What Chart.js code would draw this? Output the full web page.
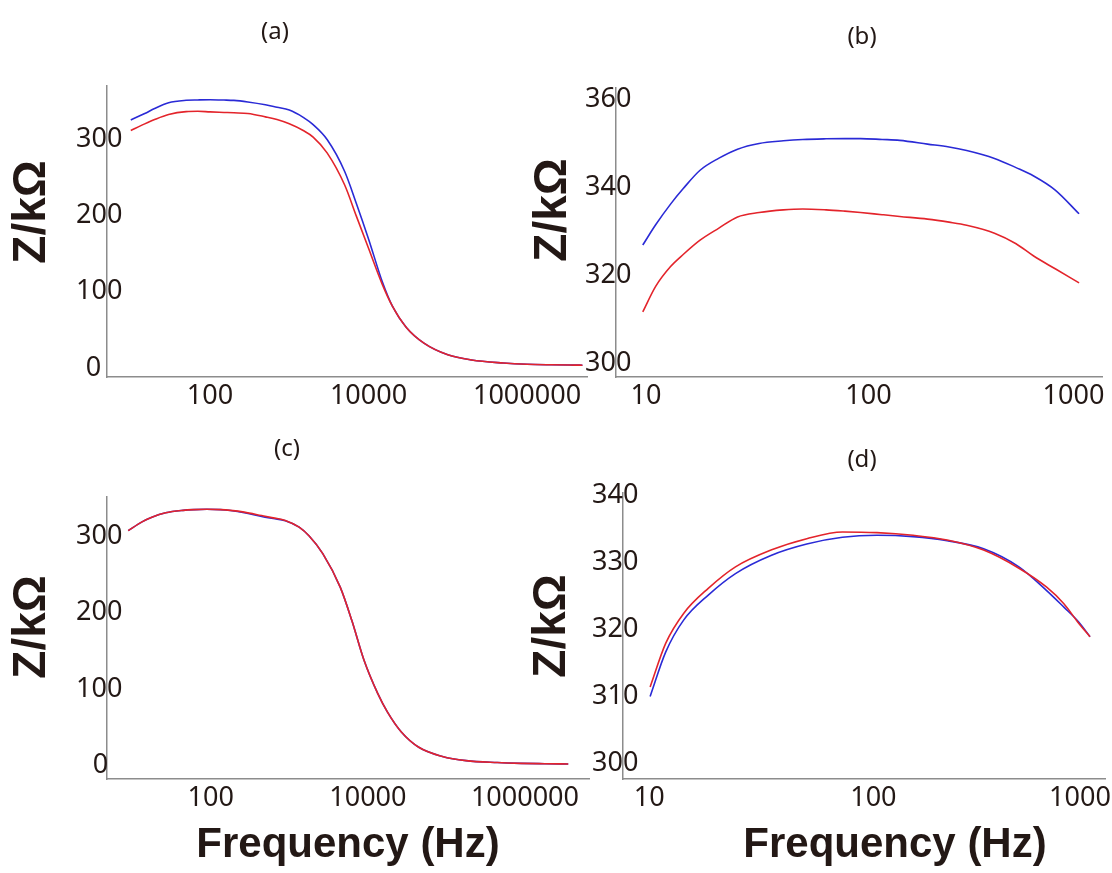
<!DOCTYPE html>
<html>
<head>
<meta charset="utf-8">
<title>Impedance spectra</title>
<script src="https://cdn.jsdelivr.net/npm/chart.js@4.4.1/dist/chart.umd.min.js"></script>
<style>
  html, body { margin: 0; padding: 0; background: #fff; }
  #page { position: relative; width: 1112px; height: 873px; }
  #page canvas { position: absolute; left: 0; top: 0; }
</style>
</head>
<body>
<div id="page">
  <canvas id="chartA" width="1112" height="873"></canvas>
  <canvas id="chartB" width="1112" height="873"></canvas>
  <canvas id="chartC" width="1112" height="873"></canvas>
  <canvas id="chartD" width="1112" height="873"></canvas>
</div>
<script>
// full sweep, panels (a) and (c)
const freqWide = [10, 15, 20, 30, 50, 70, 100, 150, 200, 300, 500, 700, 1000, 1500, 2000, 3000,
  5000, 7000, 10000, 15000, 20000, 30000, 50000, 100000, 200000, 500000, 1000000, 2000000, 4000000, 5000000];
const zRedA = [311.5, 320.3, 326, 332.6, 336.4, 336.8, 336, 335.3, 334.8, 333.9, 329.5, 326, 320.4, 311.6, 303, 282.2,
  240, 199.5, 157, 109, 81, 53, 32.4, 17.1, 10.3, 6.4, 4.7, 4, 3.6, 3.5];
const zBlueA = [325.5, 333.8, 340.5, 348, 351.2, 351.7, 352, 351.6, 351.1, 349, 345.3, 342, 338.4, 328.8, 319.2, 299.7,
  257.8, 216.2, 169.3, 112.3, 81, 53, 32.4, 17.1, 10.3, 6.4, 4.7, 4, 3.6, 3.5];
const zRedC = [307, 318.5, 324.5, 330.3, 333.5, 334.5, 335, 334.5, 333.5, 331.2, 326.7, 323.7, 320.4, 311.5, 300.2, 276.9,
  233, 190, 138, 94, 69.5, 43.5, 23.5, 11.5, 6, 3.5, 2.5, 2, 1.6];
const zBlueC = [307, 318.5, 324.5, 330.3, 333.5, 334.5, 335, 334.5, 333.3, 330.5, 325.5, 322.8, 320, 311.5, 300.2, 276.9,
  233, 190, 138, 94, 69.5, 43.5, 23.5, 11.5, 6, 3.5, 2.5, 2, 1.6];

// low-frequency detail, panels (b) and (d)
const freqB = [10.5, 12, 14, 16, 19, 23, 28, 35, 45, 55, 70, 85, 100, 125, 150, 200, 250, 300, 400, 500, 600, 750, 960];
const zRedB = [311.7, 317.5, 322, 324.8, 328, 330.7, 333.3, 334.3, 334.9, 335.1, 334.9, 334.6, 334.3, 333.8, 333.4,
  332.8, 332.1, 331.4, 329.6, 327.2, 324.4, 321.5, 318.3];
const zBlueB = [326.9, 331.5, 336.2, 339.8, 343.9, 346.6, 348.7, 350, 350.6, 350.9, 351.05, 351.1, 351.1, 350.9, 350.7,
  349.85, 349.2, 348.4, 346.6, 344.5, 342.6, 339.4, 334];

const freqD = [10.4, 12.2, 14.7, 18.9, 25, 36, 52, 75, 107, 155, 220, 320, 460, 610, 730, 850, 955];
const zRedD = [311.4, 317.9, 322.4, 326.1, 329.3, 331.8, 333.5, 334.5, 334.4, 334, 333.3, 331.8, 329.1, 326.3, 323.8, 320.9, 318.9];
const zBlueD = [310, 316.6, 321.4, 325.1, 328.3, 331, 332.7, 333.7, 334, 333.8, 333.2, 332, 329.3, 325.8, 323.3, 321.1, 318.9];

// tick labels
const wideTicks = [100, 10000, 1000000];
const narrowTicks = [10, 100, 1000];
const zTicksFull = [0, 100, 200, 300];
const zTicksB = [300, 320, 340, 360];
const zTicksD = [300, 310, 320, 330, 340];

const INK = '#231815';
const AXIS = '#8c8c8c';
const RED = '#e3242b';
const BLUE = '#2a2ad6';
const tickFont = { family: '"Noto Sans", "Open Sans", sans-serif', size: 27 };
const yTitleFont = 'bold 46px "Liberation Sans", Arial, sans-serif';
const xTitleFont = 'bold 42px "Liberation Sans", Arial, sans-serif';
const panelFont = '24px "Noto Sans", "Open Sans", sans-serif';
// y labels hang past the axis line: right edge sits this far right of it
const Y_LABEL_OVERHANG = 15;
const Y_LABEL_WIDEST = 46;

const pairs = (xs, ys) => ys.map((y, i) => ({ x: xs[i], y }));

// draws panel letters and axis titles at fixed spots
function captions(items) {
  return {
    id: 'captions',
    afterDraw(chart) {
      const ctx = chart.ctx;
      items.forEach((t) => {
        ctx.save();
        ctx.translate(t.x, t.y);
        if (t.rotate) ctx.rotate(t.rotate);
        ctx.font = t.font;
        ctx.fillStyle = INK;
        ctx.textAlign = 'center';
        ctx.textBaseline = t.baseline || 'middle';
        ctx.fillText(t.text, 0, 0);
        ctx.restore();
      });
    },
  };
}

function makePanel(id, cfg) {
  const lastPad = ' '.repeat(cfg.lastPad || 0);
  const zeroPad = ' '.repeat(cfg.zeroPad || 0);
  return new Chart(document.getElementById(id), {
    type: 'line',
    data: {
      datasets: [
        { data: pairs(cfg.freq, cfg.red), borderColor: RED },
        { data: pairs(cfg.freq, cfg.blue), borderColor: BLUE },
      ],
    },
    options: {
      responsive: false,
      animation: false,
      events: [],
      layout: { autoPadding: false, padding: cfg.padding },
      elements: {
        point: { radius: 0 },
        line: { borderWidth: 1.6, cubicInterpolationMode: 'monotone', fill: false },
      },
      plugins: { legend: { display: false }, tooltip: { enabled: false } },
      scales: {
        x: {
          type: 'logarithmic',
          min: cfg.xMin,
          max: cfg.xMax,
          afterBuildTicks: (s) => { s.ticks = cfg.xTicks.map((v) => ({ value: v })); },
          afterFit: (s) => {
            s.height = 40;
            s.paddingLeft = 0;
            s.paddingRight = 0;
          },
          grid: { drawOnChartArea: false, drawTicks: false },
          border: { color: AXIS, width: 1.5 },
          ticks: {
            font: tickFont,
            color: INK,
            padding: 3,
            labelOffset: cfg.labelOffset || 0,
            autoSkip: false,
            maxRotation: 0,
            callback: (v, i, ticks) => String(v) + (i === ticks.length - 1 ? lastPad : ''),
          },
        },
        y: {
          min: cfg.yMin,
          max: cfg.yMax,
          afterBuildTicks: (s) => { s.ticks = cfg.yTicks.map((v) => ({ value: v })); },
          afterFit: (s) => {
            s.width = 60;
            s.paddingTop = 0;
            s.paddingBottom = 0;
          },
          grid: { drawOnChartArea: false, drawTicks: false },
          border: { color: AXIS, width: 1.5 },
          ticks: {
            font: tickFont,
            color: INK,
            mirror: true,
            crossAlign: 'far',
            padding: Y_LABEL_OVERHANG - Y_LABEL_WIDEST,
            callback: (v) => String(v) + (v === 0 ? zeroPad : ''),
          },
        },
      },
    },
    plugins: [captions(cfg.captions)],
  });
}

makePanel('chartA', {
  freq: freqWide, red: zRedA, blue: zBlueA,
  xMin: 5.01, xMax: 5.71e6, xTicks: wideTicks,
  yMin: -12, yMax: 370, yTicks: zTicksFull, zeroPad: 3,
  padding: { top: 86, right: 525, bottom: 456, left: 47 },
  captions: [
    { text: '(a)', x: 275, y: 32, font: panelFont },
    { text: 'Z/kΩ', x: 32, y: 212, font: yTitleFont, rotate: -Math.PI / 2 },
  ],
});

makePanel('chartB', {
  freq: freqB, red: zRedB, blue: zBlueB,
  xMin: 7.96, xMax: 1217, xTicks: narrowTicks, labelOffset: 8, lastPad: 5,
  yMin: 296.9, yMax: 362.6, yTicks: zTicksB,
  padding: { top: 88, right: 10, bottom: 456, left: 556 },
  captions: [
    { text: '(b)', x: 862, y: 37, font: panelFont },
    { text: 'Z/kΩ', x: 553, y: 210, font: yTitleFont, rotate: -Math.PI / 2 },
  ],
});

makePanel('chartC', {
  freq: freqWide.slice(0, zRedC.length), red: zRedC, blue: zBlueC,
  xMin: 5.37, xMax: 7.35e6, xTicks: wideTicks, labelOffset: 4,
  yMin: -18, yMax: 351, yTicks: zTicksFull, zeroPad: 2,
  padding: { top: 497, right: 523, bottom: 54, left: 47 },
  captions: [
    { text: '(c)', x: 287, y: 449, font: panelFont },
    { text: 'Z/kΩ', x: 32, y: 627, font: yTitleFont, rotate: -Math.PI / 2 },
    { text: 'Frequency (Hz)', x: 348, y: 857, font: xTitleFont, baseline: 'alphabetic' },
  ],
});

makePanel('chartD', {
  freq: freqD, red: zRedD, blue: zBlueD,
  xMin: 7.87, xMax: 1114, xTicks: narrowTicks, labelOffset: 3, lastPad: 5,
  yMin: 297.7, yMax: 340.3, yTicks: zTicksD,
  padding: { top: 493, right: 7, bottom: 54, left: 563 },
  captions: [
    { text: '(d)', x: 862, y: 460, font: panelFont },
    { text: 'Z/kΩ', x: 552, y: 626, font: yTitleFont, rotate: -Math.PI / 2 },
    { text: 'Frequency (Hz)', x: 895, y: 857, font: xTitleFont, baseline: 'alphabetic' },
  ],
});
</script>
</body>
</html>
